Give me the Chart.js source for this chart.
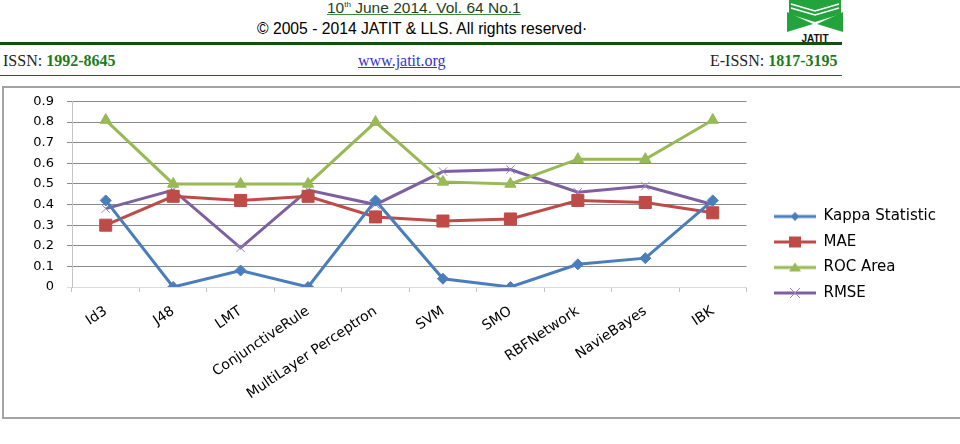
<!DOCTYPE html>
<html>
<head>
<meta charset="utf-8">
<script src="https://cdn.jsdelivr.net/npm/chart.js@4"></script>
<style>
  html, body { margin: 0; padding: 0; background: #fff; width: 960px; height: 444px; overflow: hidden; }
  .t { position: absolute; white-space: nowrap; }
  .arial { font-family: "Liberation Sans", Arial, sans-serif; }
  .times { font-family: "Liberation Serif", "Times New Roman", serif; font-size: 16px; line-height: 18px; }
  .verde { color: #1d7a1d; font-weight: bold; }
  #caixa { position: absolute; left: 2px; top: 86px; width: 1000px; height: 333px; box-sizing: border-box; border: 2px solid #a3a3a3; }
  #grafico { position: absolute; left: 5px; top: 89px; }
</style>
</head>
<body>

<!-- cabeçalho da revista -->
<div class="t arial" style="left:327px; top:-3px; font-size:15.5px; line-height:16px; color:#1f3f1f; text-decoration:underline; text-decoration-color:#3c8a3c;">10<sup style="font-size:8px;">th</sup> June 2014. Vol. 64 No.1</div>
<div class="t arial" style="left:257px; top:21px; font-size:15.7px; line-height:16px; color:#000;">© 2005 - 2014 JATIT &amp; LLS. All rights reserved·</div>
<svg class="t" style="left:787px; top:0px;" width="56" height="43" viewBox="0 0 56 43">
  <polygon points="2,0 54,0 54,14 28,22 2,14" fill="#22a33c"/>
  <polyline points="4,4 28,11 52,4" fill="none" stroke="#fff" stroke-width="1.5"/>
  <polyline points="4,8 28,15 52,8" fill="none" stroke="#fff" stroke-width="1.5"/>
  <polygon points="0,12 26,24 0,32" fill="#22a33c"/>
  <polygon points="56,12 30,24 56,32" fill="#22a33c"/>
  <text x="28" y="42" text-anchor="middle" font-family="Liberation Sans, Arial" font-weight="bold" font-size="10" fill="#111">JATIT</text>
</svg>
<div class="t" style="left:0; top:42px; width:842px; height:3px; background:#154d15;"></div>
<div class="t times" style="left:3px; top:52px; color:#222;">ISSN: <span class="verde">1992-8645</span></div>
<div class="t times" style="left:358px; top:52px; color:#3535c8; text-decoration:underline;">www.jatit.org</div>
<div class="t times" style="left:710px; top:52px; color:#222;">E-ISSN: <span class="verde">1817-3195</span></div>
<div class="t" style="left:0; top:75px; width:842px; height:1px; background:#2f552f;"></div>

<div id="caixa"></div>
<canvas id="grafico" width="955" height="327"></canvas>

<script>
// dados
const categorias = ['Id3', 'J48', 'LMT', 'ConjunctiveRule', 'MultiLayer Perceptron', 'SVM', 'SMO', 'RBFNetwork', 'NavieBayes', 'IBK'];
const kappa = [0.42, 0, 0.08, 0, 0.42, 0.04, 0, 0.11, 0.14, 0.42];
const mae   = [0.30, 0.44, 0.42, 0.44, 0.34, 0.32, 0.33, 0.42, 0.41, 0.36];
const roc   = [0.81, 0.50, 0.50, 0.50, 0.80, 0.51, 0.50, 0.62, 0.62, 0.81];
const rmse  = [0.38, 0.47, 0.19, 0.47, 0.40, 0.56, 0.57, 0.46, 0.49, 0.40];
const rotulosY = ['0', '0.1', '0.2', '0.3', '0.4', '0.5', '0.6', '0.7', '0.8', '0.9'];

const fonte = 'DejaVu Sans';

// símbolo da legenda: linha + marcador, como no Excel
function simbolo(cor, estilo, corMarca) {
  const c = document.createElement('canvas');
  c.width = 59; c.height = 16;
  const g = c.getContext('2d');
  g.strokeStyle = cor; g.lineWidth = 3;
  g.beginPath(); g.moveTo(17, 8); g.lineTo(59, 8); g.stroke();
  g.fillStyle = cor;
  const x = 38, y = 8;
  g.beginPath();
  if (estilo === 'losango') {
    g.moveTo(x, y - 4.5); g.lineTo(x + 4.5, y); g.lineTo(x, y + 4.5); g.lineTo(x - 4.5, y); g.fill();
  } else if (estilo === 'quadrado') {
    g.rect(x - 6, y - 5.5, 12, 11); g.fill();
  } else if (estilo === 'triangulo') {
    g.moveTo(x, y - 5); g.lineTo(x + 6, y + 4); g.lineTo(x - 6, y + 4); g.fill();
  } else {
    g.strokeStyle = corMarca; g.lineWidth = 1;
    g.moveTo(x - 5, y - 5); g.lineTo(x + 5, y + 5); g.moveTo(x + 5, y - 5); g.lineTo(x - 5, y + 5); g.stroke();
  }
  return c;
}

const series = [
  { nome: 'Kappa Statistic', dados: kappa, cor: '#4a7ebb', estilo: 'rectRot', raio: 5.5, marca: 'losango' },
  { nome: 'MAE', dados: mae, cor: '#be4b48', estilo: 'rect', raio: 8.5, marca: 'quadrado' },
  { nome: 'ROC Area', dados: roc, cor: '#98b954', estilo: 'triangle', raio: 6.5, marca: 'triangulo' },
  { nome: 'RMSE', dados: rmse, cor: '#7d60a0', estilo: 'crossRot', raio: 6, marca: 'x' }
];

const ctx = document.getElementById('grafico');
new Chart(ctx, {
  type: 'line',
  data: {
    labels: categorias,
    datasets: series.map(s => ({
      label: s.nome,
      data: s.dados,
      borderColor: s.cor,
      backgroundColor: s.cor,
      borderWidth: 3,
      tension: 0,
      pointStyle: s.estilo,
      pointRadius: s.raio,
      pointHoverRadius: s.raio,
      pointBackgroundColor: s.cor,
      pointBorderColor: s.marca === 'x' ? '#9a88b8' : s.cor,
      pointBorderWidth: 1
    }))
  },
  options: {
    responsive: false,
    animation: false,
    layout: { padding: { top: 12.5, right: 14, left: 0, bottom: 8 } },
    plugins: {
      tooltip: { enabled: false },
      legend: {
        position: 'right',
        align: 'center',
        labels: {
          usePointStyle: true,
          pointStyleWidth: 59,
          padding: 10.5,
          color: '#000',
          font: { family: fonte, size: 15 },
          generateLabels: chart => series.map((s, i) => ({
            text: s.nome,
            pointStyle: simbolo(s.cor, s.marca, '#9a88b8'),
            datasetIndex: i,
            hidden: false,
            lineWidth: 0,
            fillStyle: 'transparent',
            strokeStyle: 'transparent',
            fontColor: '#000'
          }))
        }
      }
    },
    scales: {
      x: {
        offset: true,
        afterFit: s => { s.height = 121; },
        grid: { offset: true, drawOnChartArea: false, drawTicks: true, tickLength: 5, color: '#c4c4c4' },
        border: { color: '#dadada' },
        ticks: { minRotation: 34, maxRotation: 34, padding: 11, color: '#000', font: { family: fonte, size: 14 } }
      },
      y: {
        min: 0,
        max: 0.9,
        afterFit: s => { s.width = 67; s.paddingTop = 0; s.paddingBottom = 0; },
        grid: {
          color: c => (c.tick && c.tick.value === 0) ? '#dadada' : '#8a8a8a',
          tickLength: 5
        },
        border: { color: '#c4c4c4' },
        ticks: {
          stepSize: 0.1,
          padding: 13,
          color: '#000',
          font: { family: fonte, size: 13 },
          callback: (v, i) => rotulosY[i]
        }
      }
    }
  }
});
</script>
</body>
</html>
